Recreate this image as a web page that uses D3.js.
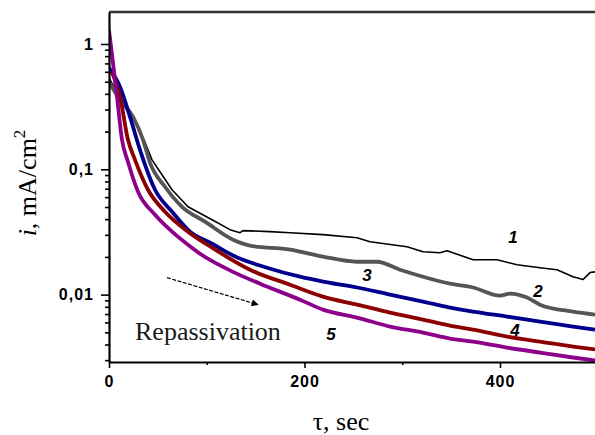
<!DOCTYPE html>
<html>
<head>
<meta charset="utf-8">
<script src="https://cdn.jsdelivr.net/npm/d3@7"></script>
<style>
  body { margin: 0; background: #fff; }
  .tick text { font-family: "Liberation Sans", Arial, sans-serif; font-weight: bold; font-size: 16px; letter-spacing: 1px; }
</style>
</head>
<body>
<svg id="chart" width="595" height="435"></svg>
<script>
// curve 1 (black)
const time1 = [0, 11.3, 24.6, 35.8, 44.0, 64.5, 80.8, 105.4, 123.8, 134.0, 137.1, 164.7, 185.2, 218.9, 253.7, 267.0, 304.9, 321.2, 338.6, 345.8, 372.4, 396.9, 417.4, 440.9, 458.3, 474.7, 485.0, 492.1, 497.2];
const current1 = [0.536, 0.371, 0.262, 0.172, 0.119, 0.0687, 0.0502, 0.0396, 0.0330, 0.0312, 0.0324, 0.0318, 0.0312, 0.0301, 0.0284, 0.0264, 0.0241, 0.0220, 0.0216, 0.0224, 0.0190, 0.0190, 0.0173, 0.0164, 0.0158, 0.0139, 0.0132, 0.0150, 0.0152];
// curve 2 (gray)
const time2 = [0, 11.3, 24.6, 34.8, 41.9, 57.3, 74.7, 98.2, 126.9, 144.2, 185.2, 218.9, 253.7, 274.2, 297.7, 321.2, 348.8, 372.4, 400, 410.2, 427.6, 440.9, 474.7, 497.2];
const current2 = [0.498, 0.358, 0.262, 0.172, 0.113, 0.0726, 0.0502, 0.0382, 0.0274, 0.0246, 0.0229, 0.0201, 0.0183, 0.0183, 0.0158, 0.0139, 0.01224, 0.0114, 0.00982, 0.01019, 0.00947, 0.00832, 0.00732, 0.00693];
// curve 3 (blue)
const time3 = [0, 11.3, 21.5, 31.7, 47.1, 64.5, 82.9, 105.4, 126.9, 161.6, 195.4, 218.9, 253.7, 287.5, 321.2, 348.8, 372.4, 407.2, 440.9, 474.7, 497.2];
const current3 = [0.644, 0.454, 0.262, 0.143, 0.0687, 0.0459, 0.0318, 0.0255, 0.0205, 0.0164, 0.0139, 0.0127, 0.0114, 0.0100, 0.00880, 0.00788, 0.00732, 0.00668, 0.00609, 0.00556, 0.00526];
// curve 4 (dark red)
const time4 = [3.1, 11.3, 19.4, 26.6, 39.9, 57.3, 80.8, 105.4, 144.2, 185.2, 218.9, 253.7, 287.5, 321.2, 348.8, 372.4, 407.2, 440.9, 474.7, 497.2];
const current4 = [0.598, 0.379, 0.172, 0.119, 0.0687, 0.0459, 0.0318, 0.0237, 0.0158, 0.0120, 0.00964, 0.00832, 0.00719, 0.00632, 0.00566, 0.00526, 0.00463, 0.00422, 0.00385, 0.00365];
// curve 5 (purple)
const time5 = [0, 4.1, 8.2, 13.3, 19.4, 29.7, 47.1, 64.5, 80.8, 93.1, 126.9, 161.6, 195.4, 218.9, 253.7, 287.5, 321.2, 348.8, 372.4, 407.2, 440.9, 474.7, 497.2];
const current5 = [1.293, 0.706, 0.379, 0.172, 0.1148, 0.0662, 0.0434, 0.0318, 0.0250, 0.0212, 0.0152, 0.0116, 0.00912, 0.00759, 0.00656, 0.00556, 0.00498, 0.00446, 0.00422, 0.00378, 0.00345, 0.00315, 0.00298];

const curveNames = ["1", "2", "3", "4", "5"];
const labelTime = [413.3, 438.9, 263.9, 415.3, 227.1];
const labelCurrent = [0.0259, 0.00964, 0.01293, 0.00471, 0.00438];

const xMajorTicks = [0, 200, 400];
const xMinorTicks = [100, 300];
const yMajorTicks = [1, 0.1, 0.01];
const yTickLabels = ["1", "0,1", "0,01"];

// arrow from / to (tau, i)
const arrowTime = [59.3, 152.4];
const arrowCurrent = [0.01366, 0.00832];

const colors = ["#000000", "#555555", "#00008c", "#8c0000", "#8c008c"];
const widths = [1.6, 3.8, 3.8, 3.8, 3.8];

let svg = d3.select("#chart");
let plotLeft = 109, plotRight = 597.75, plotTop = 12, plotBottom = 362;

let xScale = d3.scaleLinear().domain([0, 500]).range([plotLeft, plotRight]);
let yScale = d3.scaleLog().domain([0.0029, 1.8]).range([plotBottom, plotTop]);

let defs = svg.append("defs");
defs.append("clipPath").attr("id", "plotclip")
  .append("rect").attr("x", plotLeft).attr("y", plotTop)
  .attr("width", plotRight - plotLeft).attr("height", plotBottom - plotTop);

defs.append("marker")
  .attr("id", "arrowhead").attr("viewBox", "0 0 10 10")
  .attr("refX", 9).attr("refY", 5)
  .attr("markerWidth", 9).attr("markerHeight", 7)
  .attr("markerUnits", "userSpaceOnUse")
  .attr("orient", "auto")
  .append("path").attr("d", "M0,0 L10,5 L0,10 Z").attr("fill", "#000");

// top border
svg.append("line")
  .attr("x1", plotLeft).attr("x2", 595).attr("y1", plotTop).attr("y2", plotTop)
  .attr("stroke", "#333").attr("stroke-width", 2.5);

// curves
let series = [
  [time1, current1], [time2, current2], [time3, current3], [time4, current4], [time5, current5]
];
let gCurves = svg.append("g").attr("clip-path", "url(#plotclip)");
series.forEach((s, k) => {
  let pts = s[0].map((t, i) => [t, s[1][i]]);
  let line = d3.line()
    .x(d => xScale(d[0]))
    .y(d => yScale(d[1]))
    .curve(k == 0 ? d3.curveLinear : d3.curveMonotoneX);
  gCurves.append("path")
    .datum(pts)
    .attr("d", line)
    .attr("fill", "none")
    .attr("stroke", colors[k])
    .attr("stroke-width", widths[k])
    .attr("stroke-linejoin", "round");
});

// axes
let yMinor = yScale.ticks().filter(v => yMajorTicks.indexOf(v) < 0 && v < 1.8);
let gYminor = svg.append("g").attr("transform", `translate(${plotLeft},0)`)
  .call(d3.axisLeft(yScale).tickValues(yMinor).tickSize(4).tickFormat(""));
gYminor.select(".domain").remove();
let gY = svg.append("g").attr("transform", `translate(${plotLeft},0)`)
  .call(d3.axisLeft(yScale).tickValues(yMajorTicks).tickSize(8).tickSizeOuter(0).tickPadding(7)
    .tickFormat((d, i) => yTickLabels[i]));
gY.select(".domain").attr("stroke-width", 2.2);

let gXminor = svg.append("g").attr("transform", `translate(0,${plotBottom})`)
  .call(d3.axisBottom(xScale).tickValues(xMinorTicks).tickSize(3).tickFormat(""));
gXminor.select(".domain").remove();
let gX = svg.append("g").attr("transform", `translate(0,${plotBottom})`)
  .call(d3.axisBottom(xScale).tickValues(xMajorTicks).tickSize(6).tickSizeOuter(0).tickPadding(8));
gX.select(".domain").attr("stroke-width", 2.2);
svg.selectAll(".tick line").attr("stroke-width", 1.6);

// curve numbers
svg.selectAll("text.curve-label")
  .data(curveNames)
  .enter()
  .append("text")
  .attr("class", "curve-label")
  .attr("x", (d, i) => xScale(labelTime[i]))
  .attr("y", (d, i) => yScale(labelCurrent[i]))
  .attr("text-anchor", "middle")
  .style("font-family", "'Liberation Sans', Arial, sans-serif")
  .style("font-weight", "bold")
  .style("font-style", "italic")
  .style("font-size", "17px")
  .text(d => d);

// repassivation arrow
svg.append("line")
  .attr("x1", xScale(arrowTime[0])).attr("y1", yScale(arrowCurrent[0]))
  .attr("x2", xScale(arrowTime[1])).attr("y2", yScale(arrowCurrent[1]))
  .attr("stroke", "#000").attr("stroke-width", 1.2)
  .attr("stroke-dasharray", "4,1.5")
  .attr("marker-end", "url(#arrowhead)");

svg.append("text")
  .attr("x", 135).attr("y", 340)
  .style("font-family", "'Liberation Serif', 'Times New Roman', serif")
  .style("font-size", "26px")
  .attr("fill", "#1a1a1a")
  .text("Repassivation");

// axis titles
let yTitle = svg.append("text")
  .attr("transform", "translate(36,183) rotate(-90)")
  .attr("text-anchor", "middle")
  .style("font-family", "'Liberation Serif', 'Times New Roman', serif")
  .style("font-size", "26px");
yTitle.append("tspan").style("font-style", "italic").text("i");
yTitle.append("tspan").text(", mA/cm");
yTitle.append("tspan").attr("dy", -11).style("font-size", "17px").text("2");

svg.append("text")
  .attr("x", 341).attr("y", 430)
  .attr("text-anchor", "middle")
  .style("font-family", "'Liberation Serif', 'Times New Roman', serif")
  .style("font-size", "26px")
  .text("τ, sec");
</script>
</body>
</html>
